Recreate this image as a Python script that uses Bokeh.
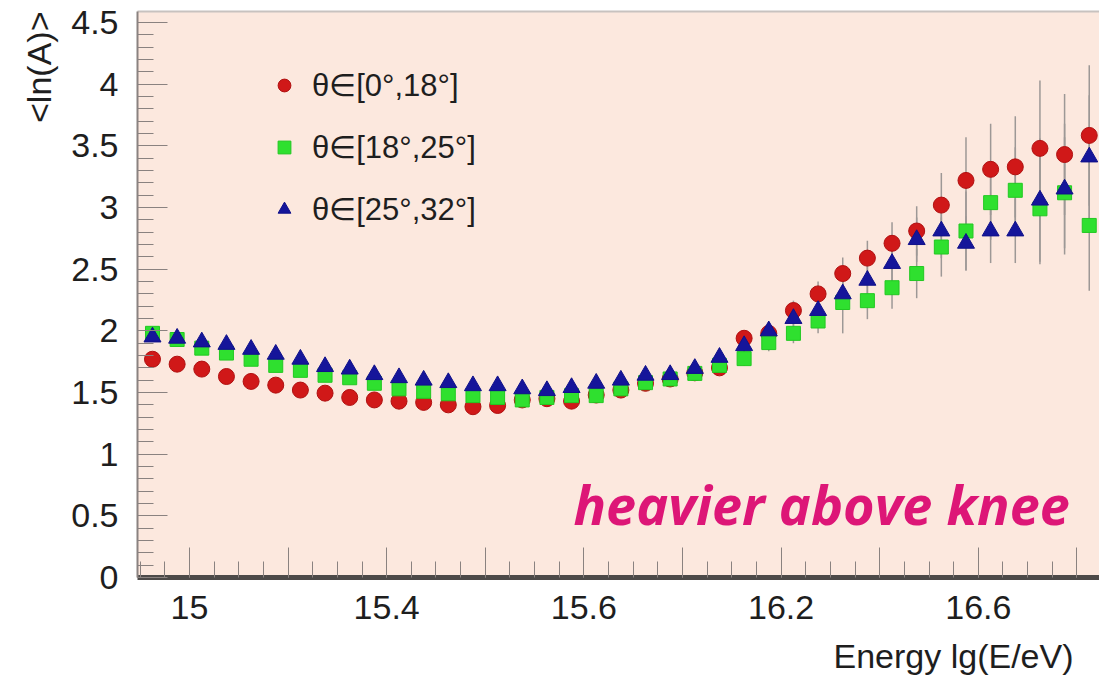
from bokeh.plotting import figure
from bokeh.models import Range1d, FixedTicker, LinearAxis, Label, Legend, LegendItem, Title
from bokeh.embed import file_html
from bokeh.resources import INLINE

# ---------------- data ----------------
lg_energy = [14.9625, 14.9875, 15.0125, 15.0375, 15.0625, 15.0875, 15.1125, 15.1375,
             15.1625, 15.1875, 15.2125, 15.2375, 15.2625, 15.2875, 15.3125, 15.3375,
             15.3625, 15.3875, 15.4125, 15.4375, 15.4625, 15.4875, 15.5125, 15.5375,
             15.5625, 15.5875, 15.6125, 15.6375, 15.6625, 15.6875, 15.7125, 15.7375,
             15.7625, 15.7875, 15.8125, 15.8375, 15.8625, 15.8875, 15.9125]

lnA_0_18 = [1.77, 1.73, 1.69, 1.63, 1.59, 1.56, 1.52, 1.495, 1.46, 1.44, 1.43, 1.42, 1.40,
            1.385, 1.395, 1.44, 1.45, 1.43, 1.48, 1.52, 1.575, 1.61, 1.66, 1.70, 1.94, 1.98,
            2.165, 2.30, 2.465, 2.59, 2.71, 2.81, 3.02, 3.22, 3.31, 3.33, 3.48, 3.43, 3.585]
err_0_18 = [0.02, 0.02, 0.02, 0.02, 0.02, 0.02, 0.02, 0.02, 0.02, 0.02, 0.02, 0.02, 0.02,
            0.02, 0.02, 0.02, 0.02, 0.03, 0.03, 0.03, 0.03, 0.03, 0.04, 0.05, 0.06, 0.07,
            0.08, 0.10, 0.13, 0.14, 0.17, 0.20, 0.26, 0.35, 0.37, 0.41, 0.55, 0.49, 0.57]

lnA_18_25 = [1.98, 1.93, 1.86, 1.82, 1.77, 1.72, 1.68, 1.64, 1.62, 1.575, 1.53, 1.51, 1.49,
             1.475, 1.46, 1.44, 1.46, 1.475, 1.475, 1.53, 1.58, 1.61, 1.655, 1.72, 1.775, 1.905,
             1.98, 2.08, 2.23, 2.245, 2.35, 2.465, 2.68, 2.81, 3.04, 3.14, 2.99, 3.12, 2.855]
err_18_25 = [0.02, 0.02, 0.02, 0.02, 0.02, 0.02, 0.02, 0.02, 0.02, 0.02, 0.02, 0.02, 0.02,
             0.02, 0.02, 0.02, 0.02, 0.03, 0.03, 0.03, 0.03, 0.03, 0.04, 0.05, 0.06, 0.07,
             0.08, 0.10, 0.25, 0.15, 0.17, 0.20, 0.24, 0.32, 0.30, 0.35, 0.45, 0.45, 0.53]

lnA_25_32 = [1.95, 1.94, 1.91, 1.89, 1.85, 1.81, 1.77, 1.71, 1.69, 1.645, 1.62, 1.60, 1.58,
             1.555, 1.555, 1.53, 1.515, 1.54, 1.575, 1.60, 1.64, 1.645, 1.695, 1.785, 1.88, 2.00,
             2.10, 2.165, 2.30, 2.41, 2.546, 2.74, 2.81, 2.71, 2.81, 2.81, 3.06, 3.15, 3.41]
err_25_32 = [0.02, 0.02, 0.02, 0.02, 0.02, 0.02, 0.02, 0.02, 0.02, 0.02, 0.02, 0.02, 0.02,
             0.02, 0.02, 0.02, 0.02, 0.03, 0.03, 0.03, 0.03, 0.03, 0.04, 0.05, 0.06, 0.07,
             0.08, 0.10, 0.12, 0.14, 0.16, 0.18, 0.22, 0.22, 0.26, 0.26, 0.50, 0.53, 0.50]

series_labels = ["θ∈[0°,18°]", "θ∈[18°,25°]", "θ∈[25°,32°]"]

x_tick_values = [15.0, 15.1, 15.2, 15.3, 15.4, 15.5, 15.6, 15.7, 15.8, 15.9]
x_tick_labels = ["15", "", "15.4", "", "15.6", "", "16.2", "", "16.6", ""]
y_tick_values = [0, 0.5, 1, 1.5, 2, 2.5, 3, 3.5, 4, 4.5]
y_tick_labels = ["0", "0.5", "1", "1.5", "2", "2.5", "3", "3.5", "4", "4.5"]

x_title = "Energy lg(E/eV)"
y_title = "<ln(A)>"
note = "heavier above knee"

# ---------------- figure ----------------
FONT = "Liberation Sans"
p = figure(width=1099, height=688, output_backend="svg", toolbar_location=None,
           x_range=Range1d(14.9473, 15.9229), y_range=Range1d(0, 4.59),
           min_border_left=137, min_border_right=0, min_border_top=11, min_border_bottom=111,
           background_fill_color="#fce8de", border_fill_color="white")
p.grid.visible = False
p.outline_line_color = None

x_minor = [round(14.95 + 0.025 * i, 3) for i in range(40)]
y_minor = [round(0.1 * i, 2) for i in range(46)]

xa = p.xaxis[0]
xa.ticker = FixedTicker(ticks=x_tick_values, minor_ticks=x_minor)
xa.major_label_overrides = dict(zip(x_tick_values, x_tick_labels))
xa.axis_line_color = "#4d4a49"
xa.axis_line_width = 5
xa.major_tick_in = 30
xa.major_tick_out = 0
xa.minor_tick_in = 16
xa.minor_tick_out = 0
xa.major_tick_line_color = "#8a8280"
xa.minor_tick_line_color = "#8a8280"
xa.major_label_standoff = 18
xa.major_label_text_font = FONT
xa.major_label_text_font_size = "34px"
xa.major_label_text_color = "#1e1e1e"

ya = p.yaxis[0]
ya.ticker = FixedTicker(ticks=y_tick_values, minor_ticks=y_minor)
ya.major_label_overrides = dict(zip(y_tick_values, y_tick_labels))
ya.axis_line_color = "#8a8280"
ya.axis_line_width = 2
ya.major_tick_in = 30
ya.major_tick_out = 0
ya.minor_tick_in = 16
ya.minor_tick_out = 0
ya.major_tick_line_color = "#8a8280"
ya.minor_tick_line_color = "#8a8280"
ya.major_label_standoff = 19
ya.major_label_text_font = FONT
ya.major_label_text_font_size = "34px"
ya.major_label_text_color = "#1e1e1e"

top_axis = LinearAxis(ticker=FixedTicker(ticks=[]), major_label_text_font_size="0px",
                      axis_line_color="#c8c2bf", axis_line_width=2,
                      major_tick_line_color=None, minor_tick_line_color=None,
                      major_label_standoff=0, major_tick_out=0, minor_tick_out=0)
p.add_layout(top_axis, "above")

# axis titles as side titles (outside the frame)
p.add_layout(Title(text=x_title, align="right", offset=26, standoff=26,
                   text_font=FONT, text_font_size="34px", text_font_style="normal",
                   text_color="#1e1e1e"), "below")
p.add_layout(Title(text=y_title, align="right", offset=0, standoff=22,
                   text_font=FONT, text_font_size="34px", text_font_style="normal",
                   text_color="#1e1e1e"), "left")

# error bars
series = [(lnA_0_18, err_0_18), (lnA_18_25, err_18_25), (lnA_25_32, err_25_32)]
for ys, es in series:
    lo = [y - e for y, e in zip(ys, es)]
    hi = [y + e for y, e in zip(ys, es)]
    p.segment(x0=lg_energy, y0=lo, x1=lg_energy, y1=hi, line_color="#9d9896", line_width=1.5)

r0 = p.scatter(lg_energy, lnA_0_18, marker="circle", size=16,
               fill_color="#d01818", line_color="#b01010")
r1 = p.scatter(lg_energy, lnA_18_25, marker="square", size=14,
               fill_color="#2fe02f", line_color="#22c822")
r2 = p.scatter(lg_energy, lnA_25_32, marker="triangle", size=17,
               fill_color="#15159a", line_color="#10108a")

legend = Legend(items=[LegendItem(label=series_labels[0], renderers=[r0]),
                       LegendItem(label=series_labels[1], renderers=[r1]),
                       LegendItem(label=series_labels[2], renderers=[r2])],
                location=(131, 348), orientation="vertical",
                background_fill_alpha=0, border_line_color=None,
                padding=0, margin=0, spacing=22,
                glyph_width=32, glyph_height=40, label_height=40, label_standoff=12,
                label_text_font=FONT, label_text_font_size="31px", label_text_color="#1e1e1e")
p.add_layout(legend)

p.add_layout(Label(x=436, y=74, x_units="screen", y_units="screen", text=note,
                   text_align="left", text_baseline="alphabetic",
                   text_font="Open Sans", text_font_style="bold italic",
                   text_font_size="54px", text_color="#dd1677"))

open("out.html", "w").write(file_html(p, INLINE))
